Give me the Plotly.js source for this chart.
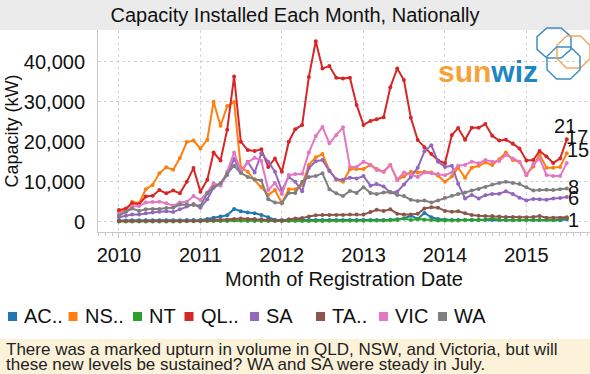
<!DOCTYPE html>
<html><head><meta charset="utf-8">
<script src="https://cdn.plot.ly/plotly-3.0.1.min.js"></script>
<style>html,body{margin:0;padding:0;background:#fff;}#chart{width:590px;height:374px;}</style>
</head><body><div id="chart"></div>
<script>
// ---------- data ----------
const startYear = 2010;
const nMonths = 67; // Jan 2010 .. Jul 2015
const months = [];
for (let i = 0; i < nMonths; i++) {
  const y = startYear + Math.floor(i / 12);
  const m = (i % 12) + 1;
  months.push(y + '-' + String(m).padStart(2, '0') + '-01');
}
const legendNames = ['AC..', 'NS..', 'NT', 'QL..', 'SA', 'TA..', 'VIC', 'WA'];
const colors = ['#1f77b4', '#ff7f0e', '#2ca02c', '#d62728', '#9467bd', '#8c564b', '#e377c2', '#7f7f7f'];

const ACT = [300,300,350,350,350,350,350,350,350,350,400,400,450,700,1000,1300,1600,3200,
  2600,2300,2100,1700,1100,500,400,400,400,400,450,450,400,450,450,400,
  400,400,400,450,450,450,500,600,800,1500,700,2200,1100,700,500,400,
  400,450,450,450,500,400,400,450,450,400,400,450,400,500,400,350,600];
const NSW = [2500,2900,5000,4600,8100,9200,12100,13600,13000,15900,19900,20300,18300,20500,30000,24000,28900,29900,
  13500,12500,10400,8700,6700,7900,4600,8100,8100,9200,14200,16100,16900,12800,10500,10000,
  13100,13200,13200,14200,13200,12500,14200,10400,11300,12500,12300,12500,12300,11500,10000,11300,
  13500,11000,13500,14000,14800,14200,15600,17300,15400,15000,11800,13800,16800,13500,13500,13700,17100];
const NT = [50,50,50,50,50,50,50,50,50,50,100,100,100,150,150,200,200,300,
  250,200,200,150,150,150,150,150,200,200,200,200,200,250,250,250,
  250,250,250,300,300,300,350,400,800,400,700,500,400,300,300,300,
  300,400,400,400,500,800,500,400,350,400,400,400,400,500,400,600,900];
const QLD = [2900,3300,4600,4400,6300,6500,7900,7100,7800,7100,10000,13400,7500,10500,17300,15300,23000,36300,
  20000,17900,17700,18100,13700,15800,12500,20000,23100,24200,36200,45100,38300,38900,36000,35800,
  36000,29200,24200,25200,25600,26100,33600,38300,35400,26000,20400,18600,16900,15300,14600,21700,
  23400,20500,23500,23500,24400,21500,20300,20500,19500,18300,15300,15400,17700,16300,14700,15800,20600];
const SA = [1100,1500,1800,1800,2100,2300,2500,2600,2400,3100,3800,4400,3500,5600,8500,9400,11700,15700,
  12300,15000,12300,17100,15000,12500,7800,11200,10000,7600,13400,15100,15400,12700,10600,10500,
  11000,10800,11400,9000,9400,8800,7300,7500,9300,11200,13500,17600,19100,15000,13700,14000,
  9500,5800,6700,5800,6600,6900,7000,7600,6900,6000,5300,5700,5600,5500,5800,5900,6200];
const TAS = [150,150,150,150,150,200,200,200,200,200,200,200,250,350,400,450,500,700,
  800,700,700,600,500,300,250,600,800,900,1300,1600,1700,1700,1700,1700,
  1800,1800,1800,2400,3000,2700,3100,2000,1800,1800,2000,3300,3600,3500,2700,2500,
  2600,2100,1700,1500,1400,1400,1300,1200,1200,1100,1100,1200,1400,1000,1000,1000,1100];
const VIC = [2000,2500,3800,3900,4800,4900,5000,4600,4000,4800,5000,6400,5400,7300,9600,9000,12500,17300,
  12700,14800,16000,15200,7900,9700,6900,11700,11900,12000,17300,21400,23700,19600,21700,23600,
  13700,13700,15000,14200,12900,12500,14200,10500,12300,11800,11200,12300,12100,11900,11600,12300,
  14000,14200,15000,14600,15400,15000,15200,16700,15800,15000,11600,14400,15800,11700,11400,11400,14700];
const WA = [1500,2500,3300,2700,3100,3200,3200,3400,3500,4300,4300,4200,4000,7100,8700,9600,12000,14000,
  12200,11200,10600,10300,5600,4800,4700,7200,7200,10000,11200,11400,12100,8100,7100,6400,
  7700,7200,8600,7200,6900,7300,7400,6700,6400,5500,5200,5300,4800,5300,6000,6500,
  6900,7300,7800,8200,8700,9300,9700,10000,9700,9400,8600,7800,7900,8000,7900,8100,8300];
const series = [ACT, NSW, NT, QLD, SA, TAS, VIC, WA];

const yTicks = [0, 10000, 20000, 30000, 40000];
const titleText = 'Capacity Installed Each Month, Nationally';
const xTitle = 'Month of Registration Date';
const yTitle = 'Capacity (kW)';
const caption1 = 'There was a marked upturn in volume in QLD, NSW, and Victoria, but will';
const caption2 = 'these new levels be sustained? WA and SA were steady in July.';

// ---------- layout helpers (pixel -> paper) ----------
const W = 590, H = 374, L = 98, R = 0, T = 30, B = 142;
const pw = W - L - R, ph = H - T - B;
const px = x => (x - L) / pw;
const py = y => (H - B - y) / ph;
const font = 'Arial, "Liberation Sans", sans-serif';

const traces = series.map((vals, i) => ({
  type: 'scatter', mode: 'lines+markers', x: months, y: vals, name: legendNames[i],
  line: {color: colors[i], width: 2}, marker: {color: colors[i], size: 4},
  showlegend: false, cliponaxis: false
}));

// end labels (in thousands), placed at each series' last point
const endIdx = [0, 1, 3, 4, 6, 7];
const endShift = {0: [7, -1], 1: [10, 16], 3: [-2, 13], 4: [7, -1], 6: [11, 13], 7: [7, 2]};
const annotations = endIdx.map(i => ({
  x: months[nMonths - 1], y: series[i][nMonths - 1], xref: 'x', yref: 'y',
  text: String(Math.round(series[i][nMonths - 1] / 1000)), showarrow: false,
  xshift: endShift[i][0], yshift: endShift[i][1], xanchor: 'center', yanchor: 'middle',
  font: {family: font, size: 20, color: '#111'}
}));

// legend row
const sqX = [12.5, 73, 137.5, 189, 254.5, 320.5, 383.5, 442.5];
const legY = 316;
const shapes = [];
// title band
shapes.push({type: 'rect', xref: 'paper', yref: 'paper', x0: px(0), x1: px(W), y0: py(T), y1: py(0),
  fillcolor: '#ebebeb', line: {width: 0}, layer: 'below'});
// caption band
shapes.push({type: 'rect', xref: 'paper', yref: 'paper', x0: px(0), x1: px(W), y0: py(374), y1: py(339),
  fillcolor: '#fcf2da', line: {width: 0}, layer: 'below'});
legendNames.forEach((n, i) => {
  shapes.push({type: 'rect', xref: 'paper', yref: 'paper', x0: px(sqX[i] - 4.5), x1: px(sqX[i] + 4.5),
    y0: py(legY + 5), y1: py(legY - 4), fillcolor: colors[i], line: {width: 0}});
  annotations.push({xref: 'paper', yref: 'paper', x: px(sqX[i] + 9.5), y: py(legY), text: n,
    showarrow: false, xanchor: 'left', yanchor: 'middle', font: {family: font, size: 20, color: '#111'}});
});
// caption
annotations.push({xref: 'paper', yref: 'paper', x: px(4), y: py(349), text: caption1, showarrow: false,
  xanchor: 'left', yanchor: 'middle', font: {family: font, size: 17, color: '#222'}});
annotations.push({xref: 'paper', yref: 'paper', x: px(4), y: py(364), text: caption2, showarrow: false,
  xanchor: 'left', yanchor: 'middle', font: {family: font, size: 17, color: '#222'}});
// logo
annotations.push({xref: 'paper', yref: 'paper', x: px(488), y: py(71),
  text: '<b><span style="color:#f5a23a">sun</span><span style="color:#1f86c3">wiz</span></b>',
  showarrow: false, xanchor: 'center', yanchor: 'middle', font: {family: font, size: 30}});
function oct(x0, y0, x1, y1) {
  const c = 0.29 * (x1 - x0), d = 0.29 * (y1 - y0);
  const pts = [[x0 + c, y0], [x1 - c, y0], [x1, y0 + d], [x1, y1 - d], [x1 - c, y1], [x0 + c, y1], [x0, y1 - d], [x0, y0 + d]];
  return 'M ' + pts.map(p => px(p[0]).toFixed(4) + ',' + py(p[1]).toFixed(4)).join(' L ') + ' Z';
}
shapes.push({type: 'path', xref: 'paper', yref: 'paper', path: oct(537, 28, 571, 58), line: {color: '#3f8fc0', width: 1.5}});
shapes.push({type: 'path', xref: 'paper', yref: 'paper', path: oct(557, 36, 590, 68), line: {color: '#f0a860', width: 1.5}});
shapes.push({type: 'path', xref: 'paper', yref: 'paper', path: oct(547, 47, 580, 79), line: {color: '#3f8fc0', width: 1.5}});

const layout = {
  width: W, height: H, margin: {l: L, r: R, t: T, b: B}, paper_bgcolor: '#fff', plot_bgcolor: '#fff',
  font: {family: font, color: '#111'},
  title: {text: titleText, x: 0.5, xanchor: 'center', y: 1 - 15 / H, yanchor: 'middle', yref: 'container',
    font: {family: font, size: 20, color: '#111'}},
  xaxis: {type: 'date', range: ['2009-09-29', '2015-10-13'], tick0: '2010-01-01', dtick: 'M12', tickformat: '%Y',
    showgrid: true, gridcolor: '#d6d6d6', griddash: 'dot', gridwidth: 1,
    ticks: 'outside', ticklen: 5, tickcolor: '#c8c8c8',
    minor: {dtick: 'M1', ticks: 'outside', ticklen: 3, tickcolor: '#c8c8c8', showgrid: false},
    showline: true, linecolor: '#c8c8c8', zeroline: false,
    tickfont: {family: font, size: 20, color: '#111'},
    title: {text: xTitle, standoff: 6, font: {family: font, size: 20, color: '#111'}}, automargin: false},
  yaxis: {range: [-2575, 47925], tickvals: yTicks, tickformat: ',d',
    showgrid: true, gridcolor: '#d0d0d0', griddash: 'dot', gridwidth: 1, zeroline: false,
    showline: true, linecolor: '#c8c8c8', ticks: '', ticklabelstandoff: 8,
    tickfont: {family: font, size: 20, color: '#111'},
    title: {text: yTitle, standoff: 0, font: {family: font, size: 18, color: '#111'}}, automargin: false},
  shapes: shapes, annotations: annotations, showlegend: false
};
Plotly.newPlot('chart', traces, layout, {displayModeBar: false, staticPlot: true});
</script></body></html>
